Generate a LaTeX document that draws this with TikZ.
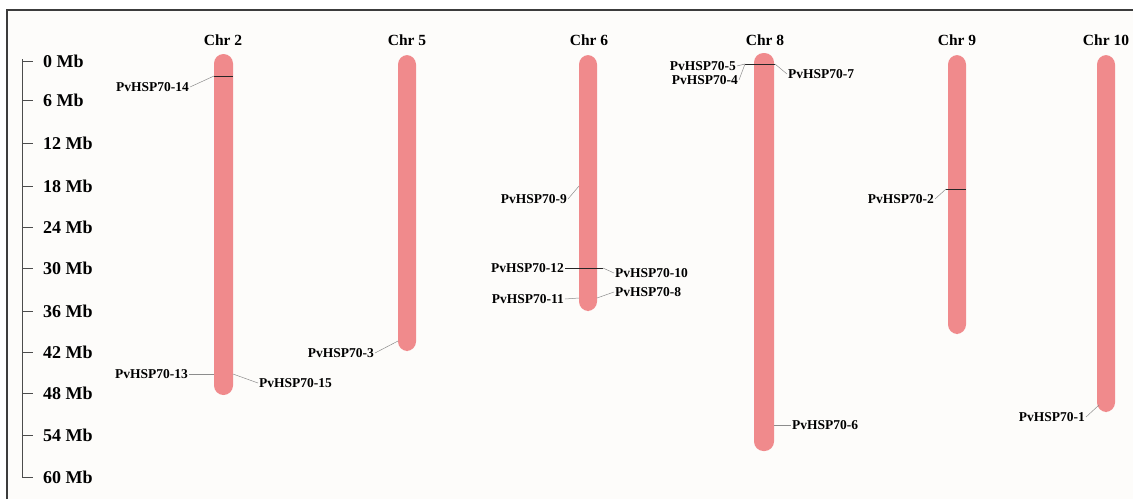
\documentclass[tikz,border=0pt]{standalone}
\usepackage{fontspec}
\setmainfont{Liberation Serif}
\definecolor{chrcol}{RGB}{240,138,140}
\definecolor{bgcol}{RGB}{253,252,250}
\definecolor{framecol}{RGB}{60,60,60}
\definecolor{leadcol}{RGB}{140,140,140}
\tikzset{
  chrom/.style={fill=chrcol, rounded corners=9.5pt},
  chrlabel/.style={font=\bfseries\fontsize{15.5}{15.5}\selectfont, inner sep=0pt},
  axlabel/.style={font=\bfseries\fontsize{18}{18}\selectfont, inner sep=0pt, anchor=west},
  genelabel/.style={font=\bfseries\fontsize{13.5}{13.5}\selectfont, inner sep=1pt},
  leadline/.style={draw=leadcol, line width=0.5pt},
  genemark/.style={draw=black!85, line width=0.9pt}
}

\begin{document}

\begin{tikzpicture}[x=1pt,y=-1pt]
\useasboundingbox (0,0) rectangle (1133,499);
% background and frame
\fill[bgcol] (7,10) rectangle (1133,499);
\draw[framecol, line width=1.5pt] (7,499) -- (7,10) -- (1133,10);

% scale axis
\draw[black!70, line width=0.9pt] (22,59) -- (22,477);
\foreach \v/\y in {0/61,6/100,12/143,18/186,24/227,30/268,36/311,42/352,48/393,54/435,60/477}{
  \draw[black!70, line width=0.9pt] (22,\y) -- (33,\y);
  \node[axlabel] (ax\v) at (43,\y) {\v{} Mb};
}

% chromosomes
\fill[chrom] (214,54) rectangle (233,395);
\fill[chrom] (398,55) rectangle (416,351);
\fill[chrom] (579,55) rectangle (597,311);
\fill[chrom] (754,53) rectangle (774,451);
\fill[chrom] (948,55) rectangle (966,334);
\fill[chrom] (1097,55) rectangle (1115,412);

% chromosome labels
\node[chrlabel] (c2) at (223,40) {Chr 2};
\node[chrlabel] (c5) at (407,40) {Chr 5};
\node[chrlabel] (c6) at (589,40) {Chr 6};
\node[chrlabel] (c8) at (765,40) {Chr 8};
\node[chrlabel] (c9) at (957,40) {Chr 9};
\node[chrlabel] (c10) at (1106,40) {Chr 10};

% attachment coordinates
\coordinate (a14l) at (214,76);  \coordinate (a14r) at (233,76);
\coordinate (a13) at (214,374);
\coordinate (a15) at (233,374);
\coordinate (a3) at (398,341);
\coordinate (a9) at (579,186);
\coordinate (a12r) at (603,268);
\coordinate (a11) at (579,298);
\coordinate (a8) at (597,298);
\coordinate (a8l) at (745,64); \coordinate (a8r) at (775,64);
\coordinate (a6) at (774,425);
\coordinate (a2l) at (946,189); \coordinate (a2r) at (966,189);
\coordinate (a1) at (1099,405);

% gene labels
\node[genelabel, anchor=east] (g14) at (190,87) {PvHSP70-14};
\node[genelabel, anchor=east] (g13) at (189,374) {PvHSP70-13};
\node[genelabel, anchor=west] (g15) at (258,383) {PvHSP70-15};
\node[genelabel, anchor=east] (g3) at (375,353) {PvHSP70-3};
\node[genelabel, anchor=east] (g9) at (568,199) {PvHSP70-9};
\node[genelabel, anchor=east] (g12) at (565,268) {PvHSP70-12};
\node[genelabel, anchor=west] (g10) at (614,273) {PvHSP70-10};
\node[genelabel, anchor=east] (g11) at (565,299) {PvHSP70-11};
\node[genelabel, anchor=west] (g8) at (614,292) {PvHSP70-8};
\node[genelabel, anchor=east] (g5) at (737,66) {PvHSP70-5};
\node[genelabel, anchor=east] (g4) at (739,80) {PvHSP70-4};
\node[genelabel, anchor=west] (g7) at (787,74) {PvHSP70-7};
\node[genelabel, anchor=west] (g6) at (791,425) {PvHSP70-6};
\node[genelabel, anchor=east] (g2) at (935,199) {PvHSP70-2};
\node[genelabel, anchor=east] (g1) at (1086,417) {PvHSP70-1};

% gene marks across chromosomes
\draw[genemark] (a14l) -- (a14r);
\draw[genemark] (g12.east) -- (a12r);
\draw[genemark] (a8l) -- (a8r);
\draw[genemark] (a2l) -- (a2r);

% leader lines
\draw[leadline] (g14.east) -- (a14l);
\draw[leadline] (g13.east) -- (a13);
\draw[leadline] (a15) -- (g15.west);
\draw[leadline] (g3.east) -- (a3);
\draw[leadline] (g9.east) -- (a9);
\draw[leadline] (a12r) -- (g10.west);
\draw[leadline] (g11.east) -- (a11);
\draw[leadline] (a8) -- (g8.west);
\draw[leadline] (g5.east) -- (a8l);
\draw[leadline] (g4.east) -- (a8l);
\draw[leadline] (a8r) -- (g7.west);
\draw[leadline] (a6) -- (g6.west);
\draw[leadline] (g2.east) -- (a2l);
\draw[leadline] (g1.east) -- (a1);
\end{tikzpicture}

\end{document}
